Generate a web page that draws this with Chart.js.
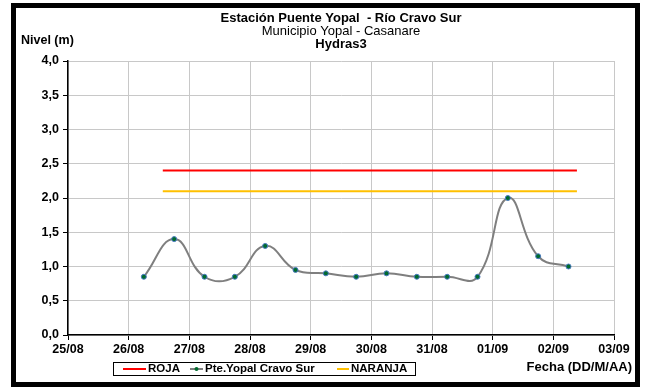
<!DOCTYPE html>
<html>
<head>
<meta charset="utf-8">
<script src="https://cdn.jsdelivr.net/npm/chart.js@4"></script>
<style>
    body { margin: 0; background: #fff; }
    #frame {
        position: absolute; left: 11px; top: 3px;
        width: 619px; height: 374px;
        border: 5px solid #000; background: #fff;
    }
    canvas { display: block; }
</style>
</head>
<body>
<div id="frame"><canvas id="chart" width="619" height="374"></canvas></div>
<script>
// --- Data ---
const tickLabels = ['25/08', '26/08', '27/08', '28/08', '29/08', '30/08', '31/08', '01/09', '02/09', '03/09'];
const fechas = [
    '26/08 06:00', '26/08 18:00', '27/08 06:00', '27/08 18:00', '28/08 06:00',
    '28/08 18:00', '29/08 06:00', '29/08 18:00', '30/08 06:00', '30/08 18:00',
    '31/08 06:00', '31/08 18:00', '01/09 06:00', '01/09 18:00', '02/09 06:00'
];
const niveles = [0.85, 1.40, 0.85, 0.85, 1.30, 0.95, 0.90, 0.85, 0.90, 0.85, 0.85, 0.85, 2.00, 1.15, 1.00];
const umbralFechas = ['26/08 13:30', '02/09 09:20'];
const roja = [2.4, 2.4];
const naranja = [2.1, 2.1];

const titleLines = ['Estación Puente Yopal  - Río Cravo Sur', 'Municipio Yopal - Casanare', 'Hydras3'];
const FONT = "'Liberation Sans', Arial, sans-serif";

// 'DD/MM HH:MM' -> days since 25/08 00:00
const toDays = (s) => {
    const [date, time] = s.split(' ');
    const [d, m] = date.split('/').map(Number);
    const [h, min] = time.split(':').map(Number);
    const day = m === 8 ? d - 25 : d + 6;
    return day + (h + min / 60) / 24;
};
const pts = (xs, ys) => xs.map((x, i) => ({ x: toDays(x), y: ys[i] }));

// --- Titles, axis captions and boxed legend ---
const decorPlugin = {
    id: 'decor',
    afterDraw(chart) {
        const ctx = chart.ctx;
        const area = chart.chartArea;
        const cx = (area.left + area.right) / 2;
        ctx.save();
        ctx.fillStyle = '#000';
        ctx.textBaseline = 'middle';
        ctx.textAlign = 'center';
        ctx.font = `bold 13px ${FONT}`;
        ctx.fillText(titleLines[0], cx, 10);
        ctx.font = `13px ${FONT}`;
        ctx.fillText(titleLines[1], cx, 23);
        ctx.font = `bold 13px ${FONT}`;
        ctx.fillText(titleLines[2], cx, 36);

        ctx.textAlign = 'left';
        ctx.font = `bold 12.5px ${FONT}`;
        ctx.fillText('Nivel (m)', 5, 33);
        ctx.textAlign = 'right';
        ctx.font = `bold 13px ${FONT}`;
        ctx.fillText('Fecha (DD/M/AA)', 616, 359);

        // legend box
        ctx.strokeStyle = '#000';
        ctx.lineWidth = 1;
        ctx.strokeRect(97.5, 354.5, 302, 13);
        const items = [
            { ds: chart.data.datasets[0], x: 107, w: 23 },
            { ds: chart.data.datasets[1], x: 174, w: 13 },
            { ds: chart.data.datasets[2], x: 321, w: 12 }
        ];
        const ly = 361;
        ctx.textAlign = 'left';
        ctx.font = `bold 11.5px ${FONT}`;
        items.forEach(it => {
            ctx.strokeStyle = it.ds.borderColor;
            ctx.lineWidth = 2;
            ctx.beginPath();
            ctx.moveTo(it.x, ly);
            ctx.lineTo(it.x + it.w, ly);
            ctx.stroke();
            if (it.ds.pointRadius > 0) {
                ctx.fillStyle = it.ds.pointBackgroundColor;
                ctx.beginPath();
                ctx.arc(it.x + it.w / 2, ly, 2, 0, Math.PI * 2);
                ctx.fill();
            }
            ctx.fillStyle = '#000';
            ctx.fillText(it.ds.label, it.x + it.w + 2, ly);
        });
        ctx.restore();
    }
};

new Chart(document.getElementById('chart'), {
    type: 'line',
    data: {
        datasets: [
            {
                label: 'ROJA',
                data: pts(umbralFechas, roja),
                borderColor: '#ff0000',
                borderWidth: 2,
                pointRadius: 0
            },
            {
                label: 'Pte.Yopal Cravo Sur',
                data: pts(fechas, niveles),
                borderColor: '#7f7f7f',
                borderWidth: 2,
                tension: 0.45,
                pointRadius: 2.5,
                pointBackgroundColor: '#006b2e',
                pointBorderColor: '#4a78c0',
                pointBorderWidth: 1
            },
            {
                label: 'NARANJA',
                data: pts(umbralFechas, naranja),
                borderColor: '#ffc000',
                borderWidth: 2,
                pointRadius: 0
            }
        ]
    },
    options: {
        responsive: false,
        animation: false,
        devicePixelRatio: 1,
        layout: { padding: { left: 0, right: 21, top: 53, bottom: 0 } },
        plugins: {
            legend: { display: false },
            title: { display: false },
            tooltip: { enabled: false }
        },
        scales: {
            x: {
                type: 'linear',
                min: 0,
                max: tickLabels.length - 1,
                afterFit: (s) => { s.height = 47; },
                afterBuildTicks: (s) => { s.ticks = tickLabels.map((_, i) => ({ value: i })); },
                ticks: {
                    callback: (v) => tickLabels[v],
                    color: '#000',
                    font: { family: FONT, size: 12.5, weight: 'bold' },
                    padding: 2,
                    maxRotation: 0
                },
                grid: { color: '#c8c8c8', lineWidth: 1, tickLength: 5, tickColor: '#000' },
                border: { color: '#000', width: 1.5 }
            },
            y: {
                min: 0,
                max: 4,
                afterFit: (s) => { s.width = 52; },
                ticks: {
                    stepSize: 0.5,
                    callback: (v) => v.toFixed(1).replace('.', ','),
                    color: '#000',
                    font: { family: FONT, size: 12.5, weight: 'bold' },
                    padding: 4
                },
                grid: { color: '#c8c8c8', lineWidth: 1, tickLength: 5, tickColor: '#000' },
                border: { color: '#000', width: 1.5 }
            }
        }
    },
    plugins: [decorPlugin]
});
</script>
</body>
</html>
